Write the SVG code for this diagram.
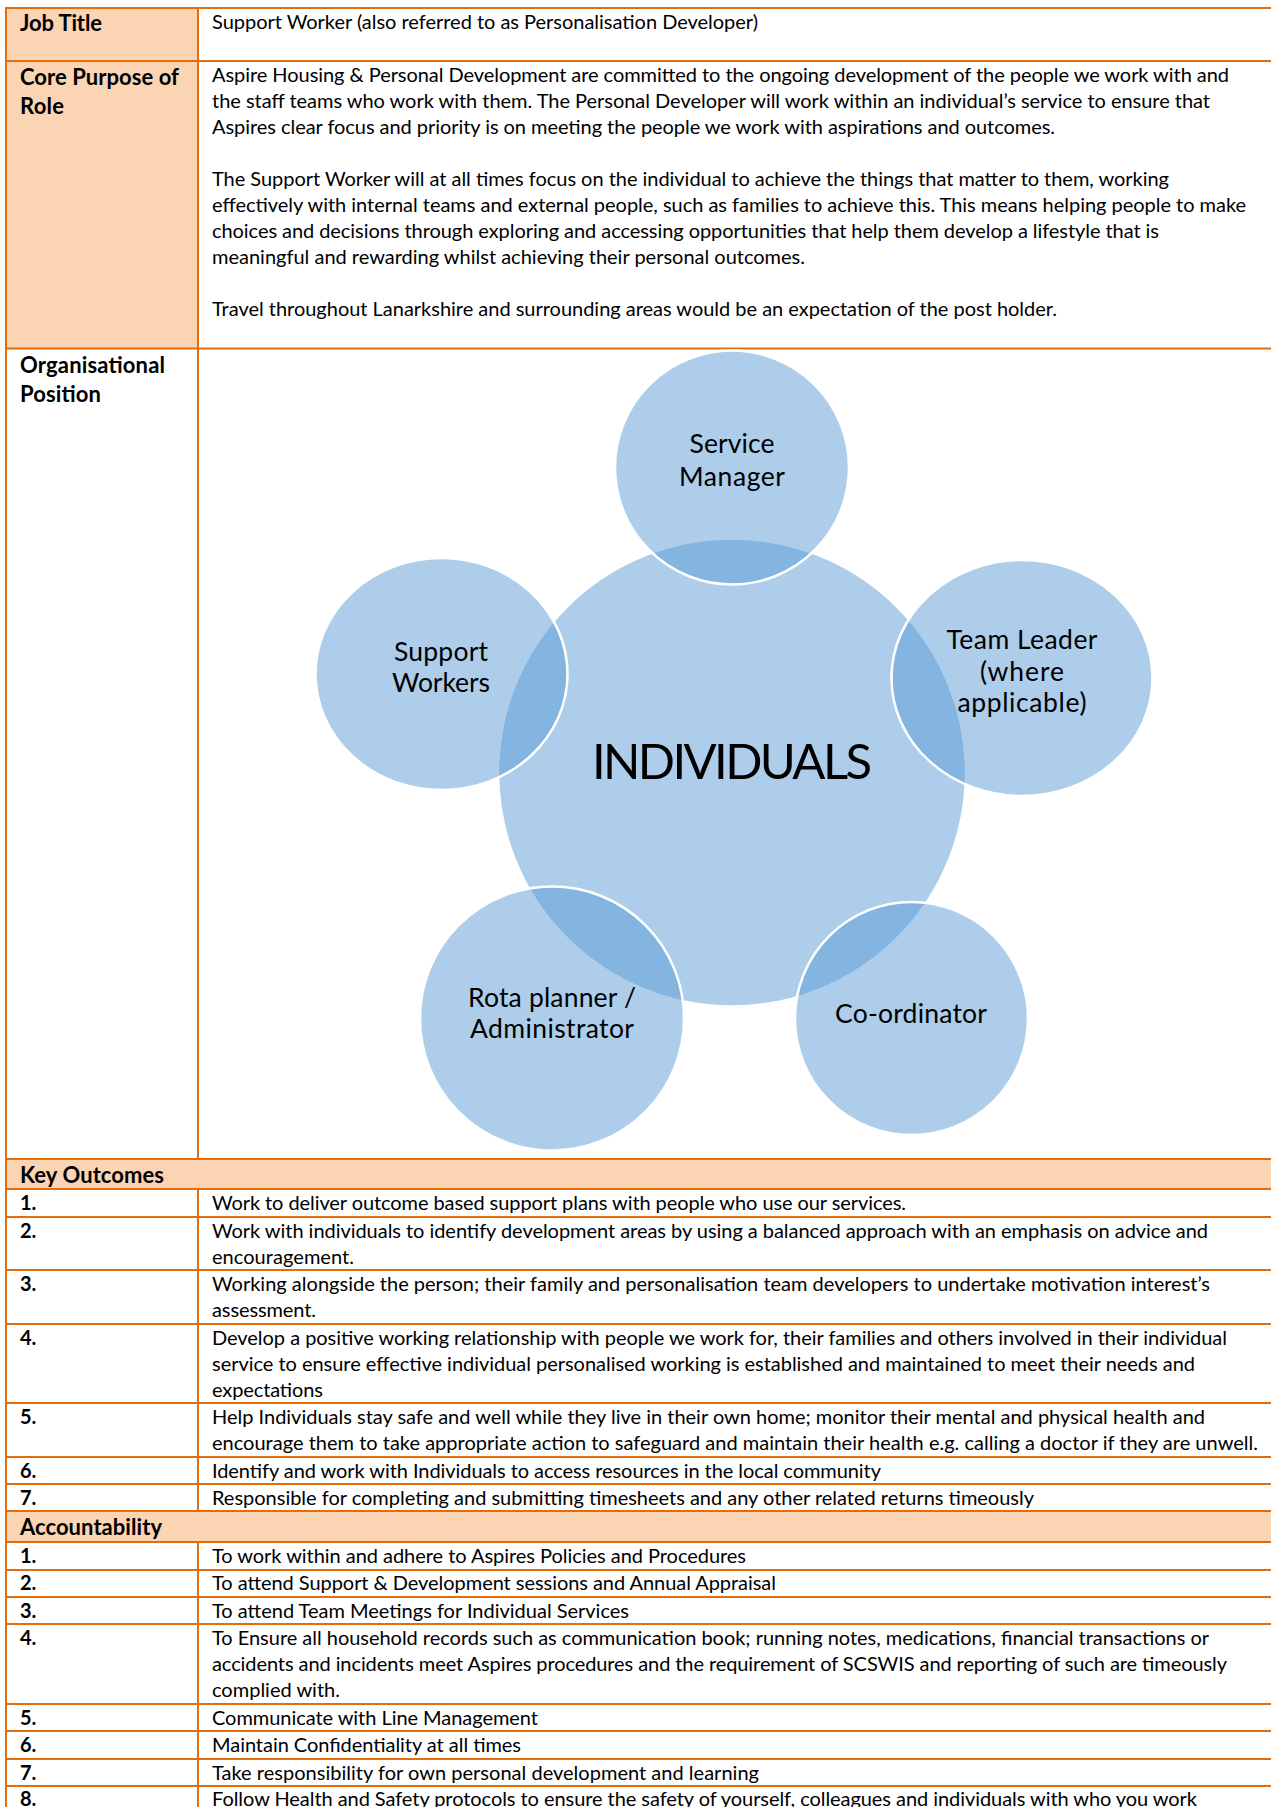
<svg xmlns="http://www.w3.org/2000/svg" width="1271" height="1807" viewBox="0 0 1271 1807">
<style>
.ln{stroke:#E46C0A;stroke-width:2;fill:none}
.hdr{fill:#FBD4B4}
text{font-family:Lato,"Liberation Sans",sans-serif;fill:#000}
.t{font-size:20px}
.b{font-size:22px;font-weight:bold}
.n{font-size:20px;font-weight:bold}
.c{fill:#5B9BD5;fill-opacity:0.5;stroke:#fff;stroke-width:2.5}
.cl{font-size:26.5px;text-anchor:middle}
.big{font-size:49px;text-anchor:middle}
</style>
<rect width="1271" height="1807" fill="#fff"/>
<g id="table">
  <rect class="hdr" x="6" y="8" width="192" height="340.5"/>
  <rect class="hdr" x="6" y="1159" width="1265" height="30"/>
  <rect class="hdr" x="6" y="1511" width="1265" height="31"/>
  <g class="ln">
    <path d="M6 8H1271M6 61H1271M6 348.5H1271M6 1159H1271M6 1189H1271M6 1217H1271M6 1270H1271M6 1324H1271M6 1403H1271M6 1457H1271M6 1484H1271M6 1511H1271M6 1542H1271M6 1570H1271M6 1597H1271M6 1624H1271M6 1704H1271M6 1731H1271M6 1759H1271M6 1786H1271"/>
    <path d="M6 7V1807M198 8V1159M198 1189V1511M198 1542V1807"/>
  </g>
</g>
<g id="row-job-title">
  <text class="b" x="20" y="31" textLength="82">Job Title</text>
  <text class="t" x="212" y="29" textLength="546">Support Worker (also referred to as Personalisation Developer)</text>
</g>
<g id="row-core-purpose">
  <text class="b" x="20" y="85" textLength="159">Core Purpose of</text>
  <text class="b" x="20" y="114" textLength="44">Role</text>
  <text class="t" x="212" y="82" textLength="1017">Aspire Housing &amp; Personal Development are committed to the ongoing development of the people we work with and</text>
  <text class="t" x="212" y="108" textLength="998">the staff teams who work with them. The Personal Developer will work within an individual’s service to ensure that</text>
  <text class="t" x="212" y="134" textLength="843">Aspires clear focus and priority is on meeting the people we work with aspirations and outcomes.</text>
  <text class="t" x="212" y="186" textLength="957">The Support Worker will at all times focus on the individual to achieve the things that matter to them, working</text>
  <text class="t" x="212" y="212" textLength="1034">effectively with internal teams and external people, such as families to achieve this. This means helping people to make</text>
  <text class="t" x="212" y="238" textLength="947">choices and decisions through exploring and accessing opportunities that help them develop a lifestyle that is</text>
  <text class="t" x="212" y="264" textLength="593">meaningful and rewarding whilst achieving their personal outcomes.</text>
  <text class="t" x="212" y="316" textLength="845">Travel throughout Lanarkshire and surrounding areas would be an expectation of the post holder.</text>
</g>
<g id="row-organisational-position">
  <text class="b" x="20" y="373" textLength="145">Organisational</text>
  <text class="b" x="20" y="402" textLength="81">Position</text>
</g>
<g id="diagram">
  <g id="node-individuals">
    <circle class="c" cx="732" cy="772.5" r="234"/>
  </g>
  <g id="node-service-manager">
    <circle class="c" cx="732" cy="467.5" r="117"/>
    <text class="cl" x="732" y="453" textLength="85">Service</text>
    <text class="cl" x="732" y="486" textLength="106">Manager</text>
  </g>
  <g id="node-team-leader">
    <ellipse class="c" cx="1022" cy="678" rx="130.5" ry="118"/>
    <text class="cl" x="1022" y="649" textLength="151">Team Leader</text>
    <text class="cl" x="1022" y="680.5" textLength="84">(where</text>
    <text class="cl" x="1022" y="712" textLength="129">applicable)</text>
  </g>
  <g id="node-support-workers">
    <ellipse class="c" cx="441.5" cy="674" rx="126" ry="116"/>
    <text class="cl" x="441" y="661" textLength="94">Support</text>
    <text class="cl" x="441" y="692" textLength="98">Workers</text>
  </g>
  <g id="node-rota-planner">
    <circle class="c" cx="552" cy="1018.5" r="132"/>
    <text class="cl" x="552" y="1007" textLength="168">Rota planner /</text>
    <text class="cl" x="552" y="1038" textLength="164">Administrator</text>
  </g>
  <g id="node-coordinator">
    <circle class="c" cx="911.5" cy="1018.5" r="116.5"/>
    <text class="cl" x="911" y="1022.5" textLength="152">Co-ordinator</text>
  </g>
  <text id="label-individuals" class="big" x="732" y="779" textLength="280">INDIVIDUALS</text>
</g>
<g id="key-outcomes">
  <text class="b" x="20" y="1183" textLength="144">Key Outcomes</text>
  <text class="n" x="20" y="1210">1.</text>
  <text class="t" x="212" y="1210" textLength="694">Work to deliver outcome based support plans with people who use our services.</text>
  <text class="n" x="20" y="1238">2.</text>
  <text class="t" x="212" y="1238" textLength="996">Work with individuals to identify development areas by using a balanced approach with an emphasis on advice and</text>
  <text class="t" x="212" y="1264" textLength="142">encouragement.</text>
  <text class="n" x="20" y="1291">3.</text>
  <text class="t" x="212" y="1291" textLength="998">Working alongside the person; their family and personalisation team developers to undertake motivation interest’s</text>
  <text class="t" x="212" y="1317" textLength="104">assessment.</text>
  <text class="n" x="20" y="1345">4.</text>
  <text class="t" x="212" y="1345" textLength="1015">Develop a positive working relationship with people we work for, their families and others involved in their individual</text>
  <text class="t" x="212" y="1371" textLength="983">service to ensure effective individual personalised working is established and maintained to meet their needs and</text>
  <text class="t" x="212" y="1397" textLength="111">expectations</text>
  <text class="n" x="20" y="1424">5.</text>
  <text class="t" x="212" y="1424" textLength="993">Help Individuals stay safe and well while they live in their own home; monitor their mental and physical health and</text>
  <text class="t" x="212" y="1450" textLength="1046">encourage them to take appropriate action to safeguard and maintain their health e.g. calling a doctor if they are unwell.</text>
  <text class="n" x="20" y="1478">6.</text>
  <text class="t" x="212" y="1478" textLength="669">Identify and work with Individuals to access resources in the local community</text>
  <text class="n" x="20" y="1505">7.</text>
  <text class="t" x="212" y="1505" textLength="822">Responsible for completing and submitting timesheets and any other related returns timeously</text>
</g>
<g id="accountability">
  <text class="b" x="20" y="1535" textLength="142">Accountability</text>
  <text class="n" x="20" y="1563">1.</text>
  <text class="t" x="212" y="1563" textLength="534">To work within and adhere to Aspires Policies and Procedures</text>
  <text class="n" x="20" y="1590">2.</text>
  <text class="t" x="212" y="1590" textLength="564">To attend Support &amp; Development sessions and Annual Appraisal</text>
  <text class="n" x="20" y="1618">3.</text>
  <text class="t" x="212" y="1618" textLength="417">To attend Team Meetings for Individual Services</text>
  <text class="n" x="20" y="1645">4.</text>
  <text class="t" x="212" y="1645" textLength="997">To Ensure all household records such as communication book; running notes, medications, financial transactions or</text>
  <text class="t" x="212" y="1671" textLength="1015">accidents and incidents meet Aspires procedures and the requirement of SCSWIS and reporting of such are timeously</text>
  <text class="t" x="212" y="1697" textLength="128">complied with.</text>
  <text class="n" x="20" y="1725">5.</text>
  <text class="t" x="212" y="1725" textLength="326">Communicate with Line Management</text>
  <text class="n" x="20" y="1752">6.</text>
  <text class="t" x="212" y="1752" textLength="309">Maintain Confidentiality at all times</text>
  <text class="n" x="20" y="1780">7.</text>
  <text class="t" x="212" y="1780" textLength="547">Take responsibility for own personal development and learning</text>
  <text class="n" x="20" y="1806">8.</text>
  <text class="t" x="212" y="1806" textLength="985">Follow Health and Safety protocols to ensure the safety of yourself, colleagues and individuals with who you work</text>
</g>
</svg>
